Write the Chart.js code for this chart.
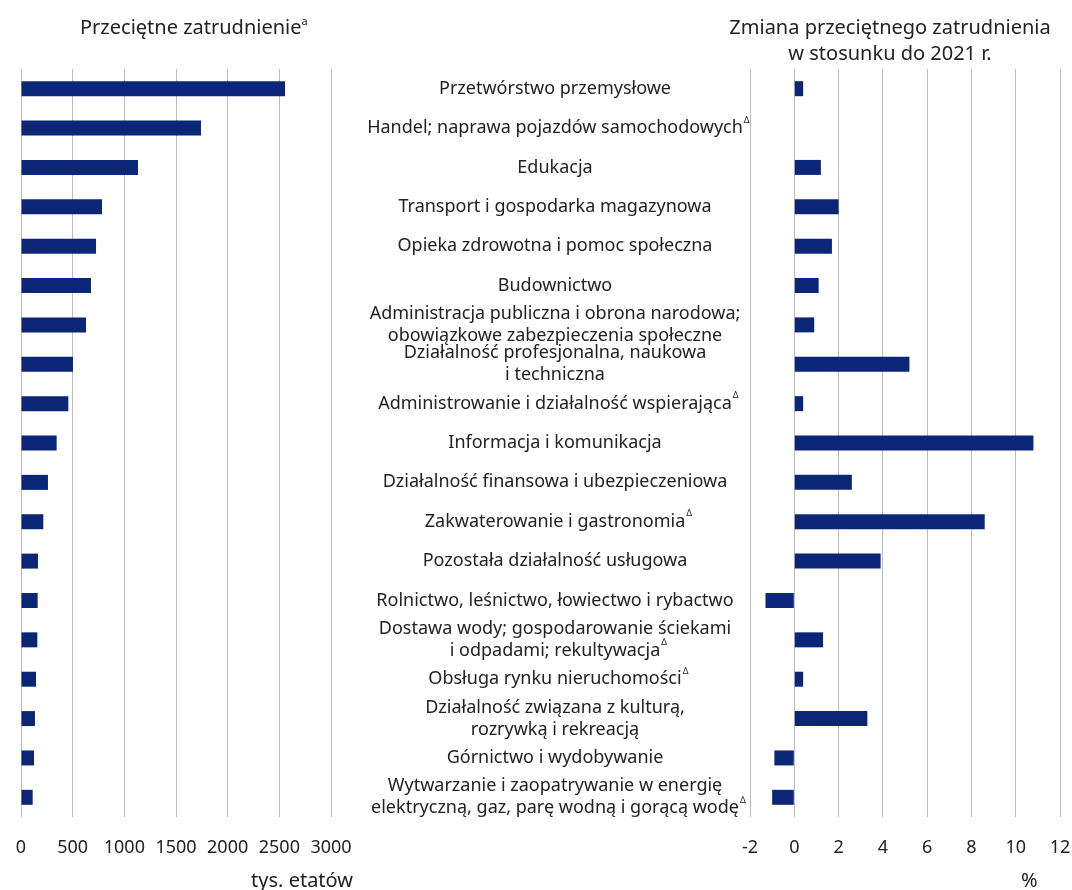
<!DOCTYPE html>
<html lang="pl">
<head>
<meta charset="utf-8">
<script src="https://cdn.jsdelivr.net/npm/chart.js@4"></script>
<style>
  body { margin: 0; background: #fff; font-family: "Noto Sans", sans-serif; color: #222; }
  #wrap { position: relative; width: 1072px; height: 890px; }
  #wrap canvas { position: absolute; left: 0; top: 0; }
  .txt { position: absolute; font-size: 20px; white-space: nowrap; line-height: 26px; }
  .txt sup { font-size: 11px; vertical-align: 9px; line-height: 0; }
</style>
</head>
<body>
<div id="wrap">
  <canvas id="left" width="1072" height="890"></canvas>
  <canvas id="right" width="1072" height="890"></canvas>
  <div class="txt" style="left:80px; top:14px;">Przeciętne zatrudnienie<sup>a</sup></div>
  <div class="txt" style="left:722px; top:14px; width:336px; text-align:center;">Zmiana przeciętnego zatrudnienia<br>w stosunku do 2021 r.</div>
  <div class="txt" style="left:233px; top:867px; width:120px; text-align:right;">tys. etatów</div>
  <div class="txt" style="left:1021px; top:867px;">%</div>
</div>
<script>
// sekcje PKD, od najwiekszego zatrudnienia
const categories = [
  ["Przetwórstwo przemysłowe"],
  ["Handel; naprawa pojazdów samochodowych"],
  ["Edukacja"],
  ["Transport i gospodarka magazynowa"],
  ["Opieka zdrowotna i pomoc społeczna"],
  ["Budownictwo"],
  ["Administracja publiczna i obrona narodowa;", "obowiązkowe zabezpieczenia społeczne"],
  ["Działalność profesjonalna, naukowa", "i techniczna"],
  ["Administrowanie i działalność wspierająca"],
  ["Informacja i komunikacja"],
  ["Działalność finansowa i ubezpieczeniowa"],
  ["Zakwaterowanie i gastronomia"],
  ["Pozostała działalność usługowa"],
  ["Rolnictwo, leśnictwo, łowiectwo i rybactwo"],
  ["Dostawa wody; gospodarowanie ściekami", "i odpadami; rekultywacja"],
  ["Obsługa rynku nieruchomości"],
  ["Działalność związana z kulturą,", "rozrywką i rekreacją"],
  ["Górnictwo i wydobywanie"],
  ["Wytwarzanie i zaopatrywanie w energię", "elektryczną, gaz, parę wodną i gorącą wodę"]
];
// which labels carry the delta footnote mark
const deltaMark = [false, true, false, false, false, false, false, false, true, false,
                   false, true, false, false, true, true, false, false, true];

// tys. etatow
const employment = [2555, 1742, 1132, 784, 726, 677, 629, 503, 458, 345,
                    261, 216, 164, 161, 158, 145, 135, 126, 113];
// % zmiana wzgledem 2021
const change = [0.4, 0.0, 1.2, 2.0, 1.7, 1.1, 0.9, 5.2, 0.4, 10.8,
                2.6, 8.6, 3.9, -1.3, 1.3, 0.4, 3.3, -0.9, -1.0];

const NAVY = "#0b2677";
const GRID = "#bdbdbd";
const FONT = "Noto Sans";
const LABEL_X = 555;
const LINE_H = 22;

const idx = categories.map((c, i) => i);

function fixAxis(scale) {
  // fixed axis band, and no extra side padding for the end tick labels
  scale.height = 73;
  scale.paddingLeft = 0;
  scale.paddingRight = 0;
}

const categoryLabels = {
  id: "categoryLabels",
  afterDraw(chart) {
    const ctx = chart.ctx;
    const yScale = chart.scales.y;
    ctx.save();
    ctx.fillStyle = "#222";
    ctx.textBaseline = "middle";
    categories.forEach((lines, i) => {
      const yc = yScale.getPixelForValue(i);
      lines.forEach((line, j) => {
        const ly = yc + (j - (lines.length - 1) / 2) * LINE_H;
        ctx.font = `18px "${FONT}"`;
        ctx.textAlign = "center";
        ctx.fillText(line, LABEL_X, ly);
        if (deltaMark[i] && j === lines.length - 1) {
          const w = ctx.measureText(line).width;
          ctx.font = `9px "${FONT}"`;
          ctx.textAlign = "left";
          ctx.fillText("Δ", LABEL_X + w / 2 + 1, ly - 8);
        }
      });
    });
    ctx.restore();
  }
};

function baseOptions(xMin, xMax, step, padLeft, padRight) {
  return {
    responsive: false,
    animation: false,
    indexAxis: "y",
    layout: { padding: { left: padLeft, right: padRight, top: 69, bottom: 0 } },
    plugins: { legend: { display: false }, tooltip: { enabled: false } },
    scales: {
      x: {
        min: xMin,
        max: xMax,
        afterFit: fixAxis,
        border: { display: false },
        grid: { color: GRID, lineWidth: 1, drawTicks: false },
        ticks: {
          stepSize: step,
          padding: 20,
          color: "#222",
          font: { family: FONT, size: 18 },
          callback: (v) => String(v)
        }
      },
      y: { display: false }
    }
  };
}

new Chart(document.getElementById("left"), {
  type: "bar",
  data: {
    labels: idx,
    datasets: [{ data: employment, backgroundColor: NAVY, barThickness: 15, inflateAmount: 0 }]
  },
  options: baseOptions(0, 3000, 500, 21, 1072 - 331)
});

new Chart(document.getElementById("right"), {
  type: "bar",
  data: {
    labels: idx,
    datasets: [{ data: change, backgroundColor: NAVY, barThickness: 15, inflateAmount: 0 }]
  },
  options: baseOptions(-2, 12, 2, 750, 1072 - 1060),
  plugins: [categoryLabels]
});
</script>
</body>
</html>
